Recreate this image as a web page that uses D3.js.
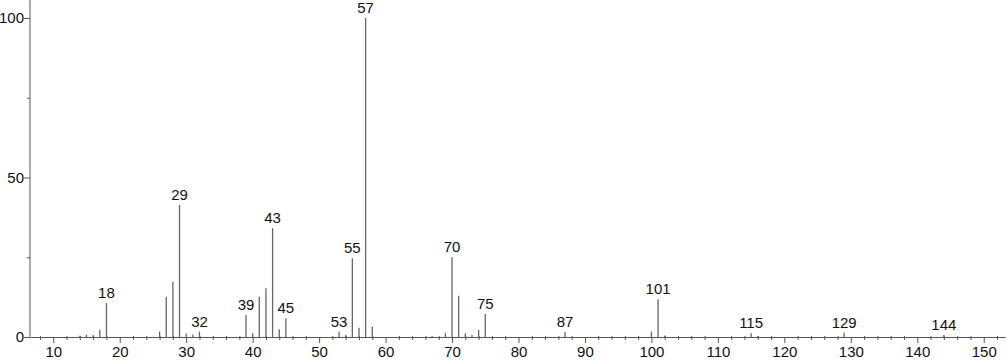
<!DOCTYPE html>
<html>
<head>
<meta charset="utf-8">
<script src="https://cdn.jsdelivr.net/npm/d3@7"></script>
<style>
  body { margin: 0; background: #fff; }
  svg { display: block; font-family: "Liberation Sans", Arial, sans-serif; }
  .axis path, .axis line { stroke: #555; }
  .axis text { font-size: 15px; fill: #111; }
</style>
</head>
<body>
<div id="chart"></div>
<script>
// m/z values and relative intensities
const mz = [14, 15, 16, 17, 18, 26, 27, 28, 29, 30, 31, 32, 39, 40, 41, 42, 43, 44, 45,
  53, 54, 55, 56, 57, 58, 67, 69, 70, 71, 72, 73, 74, 75, 87, 100, 101, 102, 115, 116, 129, 144];
const intensity = [0.4, 0.7, 0.6, 2.3, 10.6, 1.7, 12.6, 17.3, 41.4, 1.1, 0.8, 1.7, 6.9, 1.2, 12.6, 15.3, 34.1, 2.4, 5.9,
  1.7, 0.6, 24.7, 2.9, 100, 3.2, 0.3, 1.3, 25.0, 12.9, 1.2, 0.6, 2.2, 7.2, 1.6, 1.7, 11.8, 0.5, 1.2, 0.3, 1.3, 0.6];
// peaks that carry a label
const labelled = [18, 29, 32, 39, 43, 45, 53, 55, 57, 70, 75, 87, 101, 115, 129, 144];
const xMajor = [10, 20, 30, 40, 50, 60, 70, 80, 90, 100, 110, 120, 130, 140, 150];
const yMajor = [0, 50, 100];
const yMinor = [25, 75];

const width = 1007, height = 362;
const svg = d3.select("#chart").append("svg")
  .attr("width", width).attr("height", height);

const x = d3.scaleLinear().domain([6.5, 153.2]).range([30, 1005]);
const y = d3.scaleLinear().domain([0, 100]).range([337, 18]);

const peaks = mz.map((m, i) => ({ m, v: intensity[i] }));

// minor x ticks every 2
const xMinor = d3.range(8, 154, 2).filter(d => d % 10 !== 0);
svg.append("g")
  .attr("class", "axis")
  .attr("transform", `translate(0,${y(0)})`)
  .call(d3.axisBottom(x).tickValues(xMinor).tickSize(3).tickFormat(""))
  .call(g => g.select(".domain").remove())
  .call(g => g.selectAll(".tick line").attr("y1", -1));

svg.append("g")
  .attr("class", "axis")
  .attr("transform", `translate(0,${y(0)})`)
  .call(d3.axisBottom(x).tickValues(xMajor).tickSize(6).tickSizeOuter(0).tickPadding(3))
  .call(g => g.selectAll(".tick text").attr("dy", "0.72em"));

svg.append("g")
  .attr("class", "axis")
  .attr("transform", `translate(${x.range()[0]},0)`)
  .call(d3.axisLeft(y).tickValues(yMinor).tickSize(3).tickFormat(""))
  .call(g => g.select(".domain").remove());

svg.append("g")
  .attr("class", "axis")
  .attr("transform", `translate(${x.range()[0]},0)`)
  .call(d3.axisLeft(y).tickValues(yMajor).tickSize(6).tickSizeOuter(0).tickPadding(0))
  .call(g => g.select(".domain").attr("d", `M0,${y(0)}V0`));

// peak sticks
svg.append("g")
  .selectAll("line")
  .data(peaks)
  .join("line")
  .attr("x1", d => x(d.m)).attr("x2", d => x(d.m))
  .attr("y1", y(0)).attr("y2", d => y(d.v))
  .attr("stroke", "#666")
  .attr("stroke-width", 1.3);

// peak labels
svg.append("g")
  .selectAll("text")
  .data(peaks.filter(d => labelled.includes(d.m)))
  .join("text")
  .attr("x", d => x(d.m))
  .attr("y", d => y(d.v) - 5)
  .attr("text-anchor", "middle")
  .attr("font-size", 15)
  .attr("fill", "#111")
  .text(d => d.m);
</script>
</body>
</html>
